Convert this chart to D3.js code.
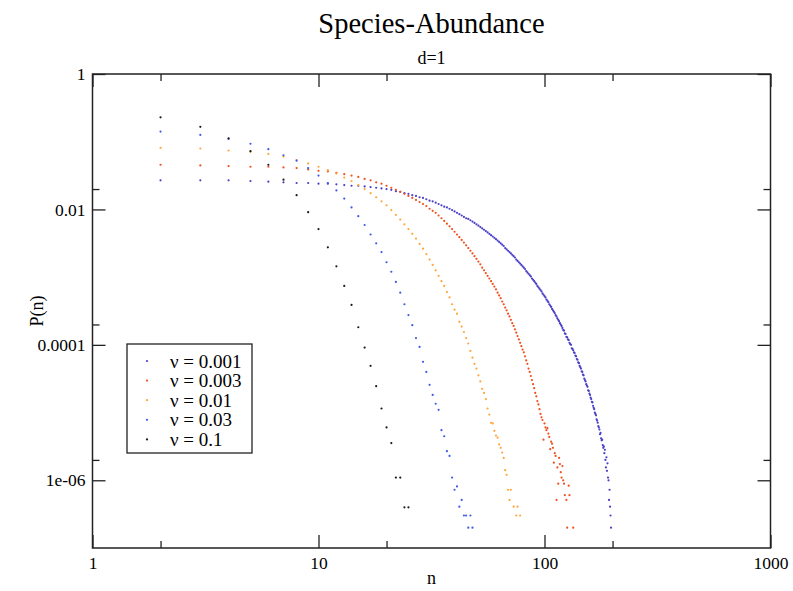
<!DOCTYPE html>
<html>
<head>
<meta charset="utf-8">
<script src="https://cdn.jsdelivr.net/npm/d3@7"></script>
<style>
body { margin: 0; background: #fff; }
svg text { font-family: "Liberation Serif", "Times New Roman", serif; fill: #000; }
</style>
</head>
<body>
<div class="chart"></div>
<script>
// log10 P(n), first value is n = 2, then n = 3, 4, ...  (null = no point)
const logP_nu0001 = [
  -1.57,-1.57,-1.57,-1.58,-1.59,-1.60,-1.61,-1.61,-1.62,-1.62,
  -1.63,-1.64,-1.65,-1.65,-1.66,-1.67,-1.68,-1.69,-1.70,-1.71,
  -1.73,-1.74,-1.76,-1.77,-1.79,-1.80,-1.82,-1.83,-1.85,-1.87,
  -1.88,-1.90,-1.92,-1.94,-1.96,-1.97,-1.99,-2.01,-2.03,-2.05,
  -2.07,-2.09,-2.11,-2.13,-2.14,-2.16,-2.18,-2.20,-2.22,-2.24,
  -2.26,-2.28,-2.30,-2.32,-2.34,-2.36,-2.38,-2.40,-2.42,-2.44,
  -2.46,-2.48,-2.50,-2.52,-2.54,-2.57,-2.59,-2.61,-2.63,-2.65,
  -2.67,-2.69,-2.71,-2.74,-2.76,-2.78,-2.80,-2.82,-2.84,-2.86,
  -2.88,-2.91,-2.93,-2.95,-2.97,-2.99,-3.02,-3.04,-3.06,-3.08,
  -3.10,-3.13,-3.15,-3.17,-3.19,-3.21,-3.24,-3.26,-3.28,-3.30,
  -3.33,-3.35,-3.37,-3.40,-3.42,-3.44,-3.47,-3.49,-3.51,-3.53,
  -3.56,-3.58,-3.61,-3.63,-3.65,-3.68,-3.70,-3.72,-3.75,-3.78,
  -3.79,-3.83,-3.84,-3.88,-3.89,-3.92,-3.93,-3.97,-3.99,-4.00,
  -4.05,-4.06,-4.08,-4.11,-4.12,-4.16,-4.17,-4.21,-4.22,-4.26,
  -4.27,-4.31,-4.33,-4.35,-4.39,-4.40,-4.44,-4.45,-4.50,-4.52,
  -4.54,-4.58,-4.60,-4.62,-4.67,-4.68,-4.72,-4.74,-4.78,-4.80,
  -4.84,-4.85,-4.90,-4.93,-4.95,-5.00,-5.02,-5.04,-5.10,-5.12,
  -5.15,-5.20,-5.22,-5.25,-5.32,-5.30,-5.38,-5.41,-5.40,-5.48,
  -5.52,-5.50,-5.60,-5.55,-5.70,-5.81,-5.66,-5.86,-5.75,-5.96,
  -6.00,-6.29,-6.14,-6.39,-6.52,-6.70
]
const logP_nu0003 = [
  -1.34,-1.35,-1.36,-1.37,-1.37,-1.38,-1.39,-1.41,-1.43,-1.44,
  -1.46,-1.48,-1.50,-1.52,-1.55,-1.57,-1.60,-1.62,-1.65,-1.68,
  -1.71,-1.74,-1.77,-1.80,-1.83,-1.86,-1.89,-1.92,-1.95,-1.99,
  -2.02,-2.05,-2.09,-2.13,-2.17,-2.21,-2.25,-2.29,-2.33,-2.37,
  -2.41,-2.45,-2.49,-2.53,-2.57,-2.61,-2.65,-2.69,-2.73,-2.77,
  -2.81,-2.86,-2.90,-2.94,-2.98,-3.02,-3.06,-3.10,-3.14,-3.18,
  -3.23,-3.27,-3.31,-3.36,-3.40,-3.45,-3.49,-3.54,-3.58,-3.63,
  -3.68,-3.72,-3.77,-3.82,-3.87,-3.92,-3.97,-4.02,-4.07,-4.11,
  -4.17,-4.23,-4.28,-4.35,-4.40,-4.46,-4.52,-4.58,-4.64,-4.71,
  -4.76,-4.83,-4.88,-4.95,-5.02,-5.07,-5.11,-5.40,-5.16,-5.22,
  -5.26,-5.23,-5.31,-5.36,-5.54,-5.43,-5.46,-5.52,-5.74,-5.60,
  -5.64,-6.29,-5.81,-6.05,-5.67,-5.76,-5.88,-5.96,-5.79,-6.00,
  -6.05,-6.22,null,-6.29,-6.70,null,-6.08,-6.22,null,null,
  null,null,-6.70
]
const logP_nu001 = [
  -1.09,-1.10,-1.13,-1.15,-1.18,-1.22,-1.27,-1.32,-1.37,-1.42,
  -1.47,-1.53,-1.58,-1.64,-1.70,-1.76,-1.82,-1.88,-1.94,-2.01,
  -2.08,-2.15,-2.22,-2.29,-2.36,-2.43,-2.51,-2.58,-2.66,-2.74,
  -2.82,-2.90,-2.98,-3.06,-3.13,-3.22,-3.30,-3.40,-3.48,-3.54,
  -3.66,-3.73,-3.81,-3.90,-3.98,-4.09,-4.19,-4.28,-4.35,-4.45,
  -4.54,-4.65,-4.71,-4.80,-4.94,-5.03,-5.15,-5.16,-5.27,-5.34,
  -5.37,-5.47,-5.52,-5.59,-5.67,-5.85,-5.92,-6.14,-6.29,-6.14,
  null,-6.39,null,-6.52,-6.39,null,-6.52
]
const logP_nu003 = [
  -0.85,-0.90,-0.96,-1.03,-1.11,-1.20,-1.28,-1.39,-1.50,-1.61,
  -1.72,-1.84,-1.97,-2.10,-2.23,-2.37,-2.50,-2.63,-2.78,-2.92,
  -3.07,-3.23,-3.40,-3.56,-3.71,-3.90,-4.03,-4.25,-4.40,-4.59,
  -4.74,-4.87,-4.96,-5.26,-5.35,-5.57,-5.64,-5.96,-6.14,-6.09,
  -6.39,-6.29,-6.52,-6.52,-6.70,-6.52,-6.70
]
const logP_nu01 = [
  -0.64,-0.78,-0.95,-1.14,-1.34,-1.56,-1.79,-2.04,-2.29,-2.56,
  -2.84,-3.13,-3.41,-3.74,-4.04,-4.31,-4.61,-4.94,-5.22,-5.45,
  -5.96,-5.96,-6.40,-6.40
]

const seriesNames = ["ν = 0.001", "ν = 0.003", "ν = 0.01", "ν = 0.03", "ν = 0.1"]
const seriesColors = ["#4a40c8", "#f0501e", "#ffa53a", "#3c5ae6", "#1a1a1a"]
const seriesLogs = [logP_nu0001, logP_nu0003, logP_nu001, logP_nu003, logP_nu01]

const xTicks = [1, 10, 100, 1000]
const xTickLabels = ["1", "10", "100", "1000"]
const xMinor = [2, 20, 200]
const yTicks = [1e-6, 1e-4, 1e-2, 1]
const yTickLabels = ["1e-06", "0.0001", "0.01", "1"]
const yMinor = [2e-6, 2e-4, 2e-2]

const width = 793
const height = 591
const plot = { left: 92.5, right: 770.5, top: 74, bottom: 548 }

const svg = d3.select(".chart")
    .append("svg")
    .attr("width", width)
    .attr("height", height)

const x = d3.scaleLog().domain([1, 1000]).range([plot.left, plot.right])
const y = d3.scaleLog().domain([1e-7, 1]).range([plot.bottom, plot.top])

// data points
const points = svg.append("g")
seriesLogs.forEach((logs, k) => {
    const data = logs.map((v, i) => ({ n: i + 2, v: v }))
        .filter(d => d.v !== null)
    points.append("g")
        .selectAll("circle")
        .data(data)
        .enter()
        .append("circle")
        .attr("cx", d => x(d.n))
        .attr("cy", d => y(Math.pow(10, d.v)))
        .attr("r", 1.1)
        .style("fill", seriesColors[k])
})

// axes (ticks point inward)
function styleAxis(g) {
    g.select(".domain").remove()
    g.attr("font-family", "Liberation Serif, Times New Roman, serif")
     .attr("font-size", 17.5)
    g.selectAll("line").attr("stroke", "#222").attr("stroke-width", 1.3)
}

svg.append("g")
    .attr("transform", `translate(0,${plot.bottom})`)
    .call(d3.axisBottom(x).tickValues(xTicks).tickFormat((d, i) => xTickLabels[i])
        .tickSizeInner(-13).tickSizeOuter(0).tickPadding(9))
    .call(styleAxis)
svg.append("g")
    .attr("transform", `translate(0,${plot.bottom})`)
    .call(d3.axisBottom(x).tickValues(xMinor).tickFormat("").tickSizeInner(-7).tickSizeOuter(0))
    .call(styleAxis)
svg.append("g")
    .attr("transform", `translate(0,${plot.top})`)
    .call(d3.axisTop(x).tickValues(xTicks).tickFormat("").tickSizeInner(-13).tickSizeOuter(0))
    .call(styleAxis)
svg.append("g")
    .attr("transform", `translate(0,${plot.top})`)
    .call(d3.axisTop(x).tickValues(xMinor).tickFormat("").tickSizeInner(-7).tickSizeOuter(0))
    .call(styleAxis)

svg.append("g")
    .attr("transform", `translate(${plot.left},0)`)
    .call(d3.axisLeft(y).tickValues(yTicks).tickFormat((d, i) => yTickLabels[i])
        .tickSizeInner(-13).tickSizeOuter(0).tickPadding(7))
    .call(styleAxis)
svg.append("g")
    .attr("transform", `translate(${plot.left},0)`)
    .call(d3.axisLeft(y).tickValues(yMinor).tickFormat("").tickSizeInner(-7).tickSizeOuter(0))
    .call(styleAxis)
svg.append("g")
    .attr("transform", `translate(${plot.right},0)`)
    .call(d3.axisRight(y).tickValues(yTicks).tickFormat("").tickSizeInner(-13).tickSizeOuter(0))
    .call(styleAxis)
svg.append("g")
    .attr("transform", `translate(${plot.right},0)`)
    .call(d3.axisRight(y).tickValues(yMinor).tickFormat("").tickSizeInner(-7).tickSizeOuter(0))
    .call(styleAxis)

// frame
svg.append("rect")
    .attr("x", plot.left)
    .attr("y", plot.top)
    .attr("width", plot.right - plot.left)
    .attr("height", plot.bottom - plot.top)
    .style("fill", "none")
    .style("stroke", "#222")
    .style("stroke-width", 1.5)

// titles
const cx = (plot.left + plot.right) / 2
svg.append("text").attr("x", cx).attr("y", 33)
    .attr("text-anchor", "middle").style("font-size", "28.5px")
    .text("Species-Abundance")
svg.append("text").attr("x", cx).attr("y", 64)
    .attr("text-anchor", "middle").style("font-size", "18px")
    .text("d=1")
svg.append("text").attr("x", cx).attr("y", 584)
    .attr("text-anchor", "middle").style("font-size", "18px")
    .text("n")
svg.append("text")
    .attr("transform", `translate(43,${(plot.top + plot.bottom) / 2}) rotate(-90)`)
    .attr("text-anchor", "middle").style("font-size", "18px")
    .text("P(n)")

// legend
const legend = svg.append("g")
legend.append("rect")
    .attr("x", 127).attr("y", 344)
    .attr("width", 125).attr("height", 109)
    .style("fill", "#fff")
    .style("stroke", "#222")
    .style("stroke-width", 1.3)
seriesNames.forEach((name, i) => {
    const ly = 361 + i * 19.6
    legend.append("circle")
        .attr("cx", 147).attr("cy", ly).attr("r", 1.1)
        .style("fill", seriesColors[i])
    legend.append("text")
        .attr("x", 170).attr("y", ly + 6.5)
        .style("font-size", "19px")
        .text(name)
})
</script>
</body>
</html>
